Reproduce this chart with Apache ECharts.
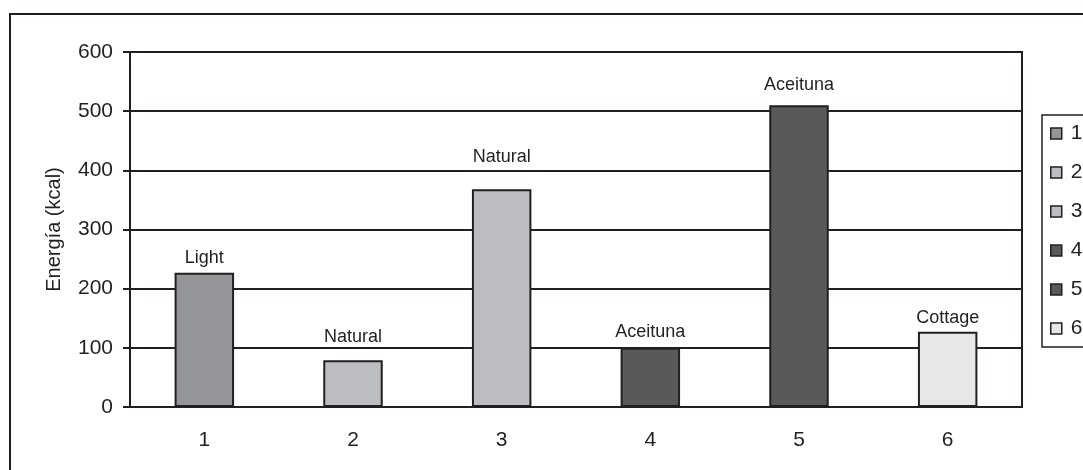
<!DOCTYPE html>
<html>
<head>
<meta charset="utf-8">
<style>
  html, body { margin: 0; padding: 0; background: #fff; }
  #chart { width: 1083px; height: 470px; }
</style>
<script src="https://cdn.jsdelivr.net/npm/echarts@6/dist/echarts.min.js"></script>
</head>
<body>
<div id="chart"></div>
<script>
// Energy content per product (kcal)
const categories = ['1', '2', '3', '4', '5', '6'];
const energyValues = [227, 79, 368, 100, 510, 127];
const barLabels = ['Light', 'Natural', 'Natural', 'Aceituna', 'Aceituna', 'Cottage'];
const barColors = ['#939598', '#bcbdc0', '#bcbdc0', '#58595b', '#58595b', '#e6e7e8'];
const yTicks = [0, 100, 200, 300, 400, 500, 600];

// Gap in px between each bar top and its label
const labelGaps = [6, 14, 23, 7, 11, 5];

const ink = '#231f20';
const fontFamily = '"Liberation Sans", Arial, sans-serif';

// One stacked series per category so each bar gets its own legend entry
const series = categories.map((name, i) => ({
  name: name,
  type: 'bar',
  stack: 'all',
  barWidth: '40%',
  data: categories.map((_, j) => (j === i ? energyValues[i] : null)),
  itemStyle: { color: barColors[i], borderColor: ink, borderWidth: 2 },
  label: {
    show: true,
    position: 'top',
    distance: labelGaps[i],
    formatter: () => barLabels[i],
    color: ink,
    fontFamily: fontFamily,
    fontSize: 18
  },
  emphasis: { disabled: true }
}));

const chart = echarts.init(document.getElementById('chart'));
chart.setOption({
  animation: false,
  backgroundColor: '#fff',
  graphic: [{
    type: 'rect',
    shape: { x: 10, y: 14, width: 1200, height: 600 },
    style: { fill: 'none', stroke: ink, lineWidth: 2 },
    silent: true,
    z: 0
  }],
  grid: {
    left: 130, right: 61, top: 52, bottom: 63,
    show: true, borderColor: ink, borderWidth: 2, backgroundColor: 'transparent'
  },
  legend: {
    orient: 'vertical',
    left: 1042,
    top: 115,
    data: categories,
    icon: 'rect',
    itemWidth: 11,
    itemHeight: 11,
    itemGap: 18,
    padding: [8, 40, 8, 8],
    borderColor: ink,
    borderWidth: 1.5,
    itemStyle: { borderColor: ink, borderWidth: 1.5 },
    textStyle: { color: ink, fontFamily: fontFamily, fontSize: 21, lineHeight: 21, padding: [0, 0, 0, 4] }
  },
  xAxis: {
    type: 'category',
    data: categories,
    axisLine: { lineStyle: { color: ink, width: 2 } },
    axisTick: { show: false },
    axisLabel: { color: ink, fontFamily: fontFamily, fontSize: 21, margin: 23 }
  },
  yAxis: {
    type: 'value',
    min: yTicks[0],
    max: yTicks[yTicks.length - 1],
    interval: 100,
    name: 'Energía (kcal)',
    nameLocation: 'middle',
    nameGap: 66,
    nameTextStyle: { color: ink, fontFamily: fontFamily, fontSize: 20 },
    axisLine: { show: true, lineStyle: { color: ink, width: 2 } },
    axisTick: { show: true, length: 7, lineStyle: { color: ink, width: 2 } },
    axisLabel: { color: ink, fontFamily: fontFamily, fontSize: 21, margin: 17 },
    splitLine: { lineStyle: { color: ink, width: 2 } }
  },
  series: series
});
</script>
</body>
</html>
